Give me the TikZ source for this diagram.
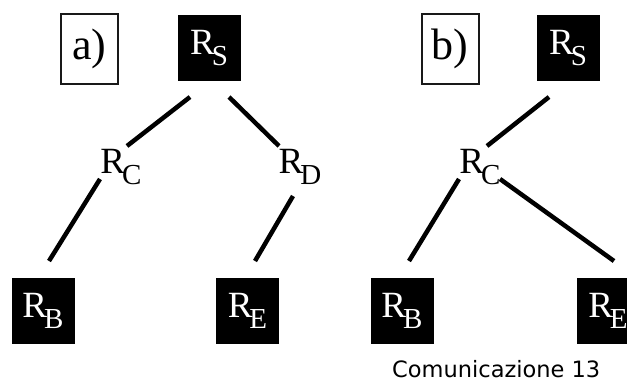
\documentclass[tikz,border=0pt]{standalone}
\usepackage{fontspec}
\setmainfont{Liberation Serif}
\newfontfamily\footfont{DejaVu Sans}
\usetikzlibrary{calc}
% R with a large, lowered subscript
\newcommand{\Rsub}[1]{\fontsize{37}{37}\selectfont R\kern-3pt\raisebox{-11pt}{\fontsize{29}{29}\selectfont #1}}
\tikzset{
  blackbox/.style={fill=black, draw=none, minimum width=63pt, minimum height=66pt, inner sep=0pt, text=white},
  labelbox/.style={draw=black!90, line width=2pt, minimum width=57pt, minimum height=70pt, inner sep=0pt, font=\fontsize{44}{44}\selectfont},
  midlabel/.style={inner sep=0pt, minimum width=36pt, minimum height=30pt},
  edge/.style={line width=4.5pt, line cap=butt},
}
\begin{document}
\begin{tikzpicture}[x=1pt, y=-1pt]
  \useasboundingbox (0,0) rectangle (627,381);
  \clip (0,0) rectangle (627,381);
  % tree a)
  \node[labelbox] (boxA) at (89.5,49) {a)};
  \node[blackbox] (rsA) at (209,48) {\Rsub{S}};
  \node[midlabel] (rcA) at (121,167) {\Rsub{C}};
  \node[midlabel] (rdA) at (300,167) {\Rsub{D}};
  \node[blackbox] (rbA) at (43,311) {\Rsub{B}};
  \node[blackbox] (reA) at (247.5,311) {\Rsub{E}};
  \draw[edge] ($(rsA)+(-19,49)$) -- ($(rcA)+(6,-21)$);
  \draw[edge] ($(rsA)+(20,49)$) -- ($(rdA)+(-21,-21)$);
  \draw[edge] ($(rcA)+(-21,12)$) -- ($(rbA)+(6,-50)$);
  \draw[edge] ($(rdA)+(-7,29)$) -- ($(reA)+(7.5,-50)$);
  % tree b)
  \node[labelbox] (boxB) at (450,49) {b)};
  \node[blackbox] (rsB) at (568,48) {\Rsub{S}};
  \node[midlabel] (rcB) at (480,167) {\Rsub{C}};
  \node[blackbox] (rbB) at (402,311) {\Rsub{B}};
  \node[blackbox] (reB) at (608,311) {\Rsub{E}};
  \draw[edge] ($(rsB)+(-19,49)$) -- ($(rcB)+(7,-21)$);
  \draw[edge] ($(rcB)+(-21,12)$) -- ($(rbB)+(7,-50)$);
  \draw[edge] ($(rcB)+(20,12)$) -- ($(reB)+(6,-50)$);
  % footer
  \node[inner sep=0pt, anchor=base west, font=\footfont\fontsize{22.5}{22.5}\selectfont] (foot) at (392,377) {Comunicazione 13};
\end{tikzpicture}
\end{document}
